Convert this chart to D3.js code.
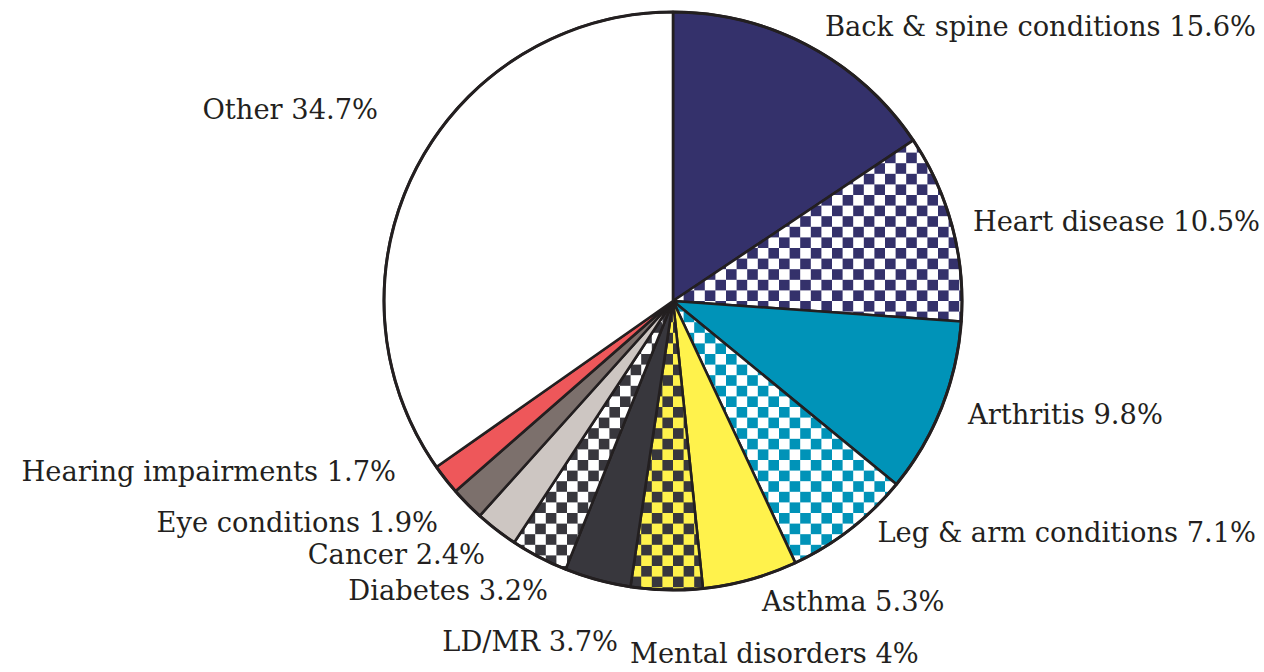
<!DOCTYPE html>
<html>
<head>
<meta charset="utf-8">
<script src="https://cdn.jsdelivr.net/npm/d3@7"></script>
<style>
  body { margin: 0; background: #fff; }
  text { font-family: "DejaVu Serif", "Liberation Serif", serif; fill: #231f20; }
</style>
</head>
<body>
<div class="chart"></div>
<script>
var svgWidth = 1264;
var svgHeight = 672;

// data, clockwise from 12 o'clock
var categories = ["Back & spine conditions", "Heart disease", "Arthritis", "Leg & arm conditions",
  "Asthma", "Mental disorders", "LD/MR", "Diabetes", "Cancer", "Eye conditions",
  "Hearing impairments", "Other"];
var shares = [15.6, 10.5, 9.8, 7.1, 5.3, 4, 3.7, 3.2, 2.4, 1.9, 1.7, 34.7];
var valueLabels = ["15.6%", "10.5%", "9.8%", "7.1%", "5.3%", "4%", "3.7%", "3.2%", "2.4%", "1.9%", "1.7%", "34.7%"];

// fills: plain colour or checker [fg, bg]
var fills = [
  "#34316b", ["#34316b", "#ffffff"], "#0093b8", ["#0093b8", "#ffffff"],
  "#fff24c", ["#38373d", "#fff24c"], "#38373d", ["#38373d", "#ffffff"],
  "#cdc6c2", "#7c706c", "#ee575a", "#ffffff"
];

// label layout: [x, baseline y, anchor]
var labelPos = [
  [1256, 36, "end"], [1260, 231, "end"], [968, 424, "start"], [1256, 542, "end"],
  [762, 611, "start"], [630, 663, "start"], [618, 651, "end"], [548, 600, "end"],
  [485, 564, "end"], [438, 532, "end"], [396, 481, "end"], [378, 119, "end"]
];

var cx = 673, cy = 301, radius = 289;
var cell = 10.6;

var svg = d3.select(".chart").append("svg")
  .attr("width", svgWidth)
  .attr("height", svgHeight);

var defs = svg.append("defs");
fills.forEach(function(f, i) {
  if (!Array.isArray(f)) return;
  var p = defs.append("pattern")
    .attr("id", "chk" + i)
    .attr("patternUnits", "userSpaceOnUse")
    .attr("width", cell * 2)
    .attr("height", cell * 2);
  p.append("rect").attr("width", cell * 2).attr("height", cell * 2).attr("fill", f[1]);
  p.append("rect").attr("width", cell).attr("height", cell).attr("fill", f[0]);
  p.append("rect").attr("x", cell).attr("y", cell).attr("width", cell).attr("height", cell).attr("fill", f[0]);
});

var pie = d3.pie().sort(null).value(function(d) { return d; });
var arc = d3.arc().innerRadius(0).outerRadius(radius);

var chart = svg.append("g").attr("transform", "translate(" + cx + "," + cy + ")");

chart.selectAll("path.slice")
  .data(pie(shares))
  .enter().append("path")
  .attr("class", "slice")
  .attr("d", arc)
  .attr("fill", function(d, i) { return Array.isArray(fills[i]) ? "url(#chk" + i + ")" : fills[i]; })
  .attr("stroke", "#231f20")
  .attr("stroke-width", 2.6)
  .attr("stroke-linejoin", "round");

chart.append("circle")
  .attr("r", radius)
  .attr("fill", "none")
  .attr("stroke", "#231f20")
  .attr("stroke-width", 3);

svg.selectAll("text.lbl")
  .data(categories)
  .enter().append("text")
  .attr("class", "lbl")
  .attr("x", function(d, i) { return labelPos[i][0]; })
  .attr("y", function(d, i) { return labelPos[i][1]; })
  .attr("text-anchor", function(d, i) { return labelPos[i][2]; })
  .attr("font-size", 27.3)
  .text(function(d, i) { return d + " " + valueLabels[i]; });
</script>
</body>
</html>
